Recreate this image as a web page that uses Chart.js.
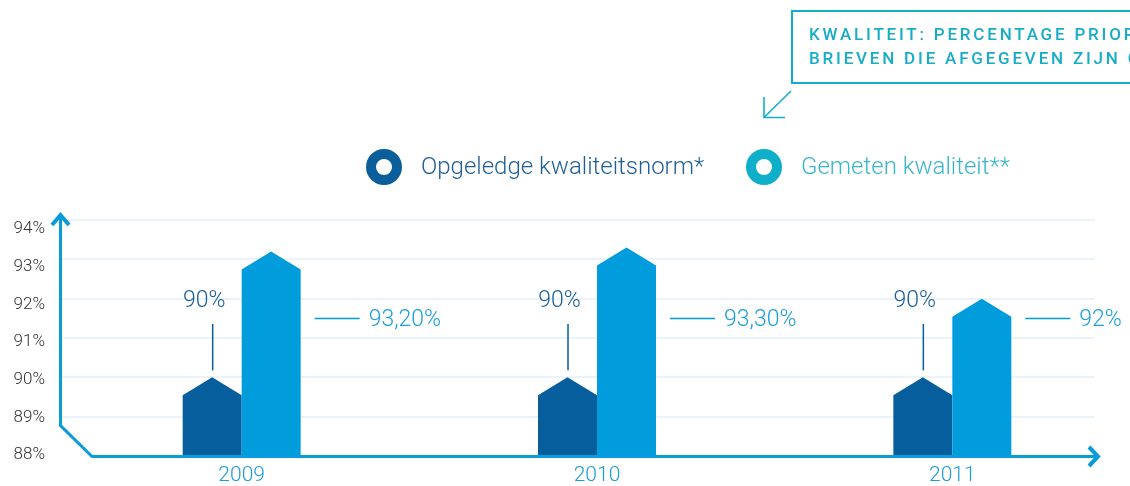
<!DOCTYPE html>
<html><head><meta charset="utf-8">
<script src="https://cdn.jsdelivr.net/npm/chart.js@4/dist/chart.umd.min.js"></script>
<style>html,body{margin:0;padding:0;background:#fff;overflow:hidden}#wrap{width:1130px;height:486px;position:relative}</style>
</head><body><div id="wrap"><canvas id="c" width="1130" height="486"></canvas></div>
<script>
// ---- data ----
const categories = ['2009', '2010', '2011'];
const normValues = [90, 90, 90];
const measuredValues = [93.2, 93.3, 92];
const seriesNames = ['Opgeledge kwaliteitsnorm*', 'Gemeten kwaliteit**'];
const yTickValues = [88, 89, 90, 91, 92, 93, 94];
const yMin = 88, yMax = 94;
const titleLines = ['KWALITEIT: PERCENTAGE PRIORITAIRE', 'BRIEVEN DIE AFGEGEVEN ZIJN OP D+1'];

// ---- styles ----
const FONT = 'Roboto, "Open Sans", sans-serif';
const C_DARK = '#075e9c';
const C_LIGHT = '#009cdc';
const C_AXIS = '#0a9bdb';
const C_GRID = '#e8f3fb';
const C_TEAL = '#12afc9';
const legendColors = [{ring: '#0b5e9c', text: '#1f5f98'}, {ring: '#10afc9', text: '#3ab6cb'}];

function fmtPct(v) {
  return Number.isInteger(v) ? v + '%' : v.toFixed(2).replace('.', ',') + '%';
}

const decor = {
  id: 'decor',
  beforeDatasetsDraw(chart) {
    const {ctx} = chart;
    const y = chart.scales.y;
    const yBase = y.getPixelForValue(yMin);
    ctx.save();
    ctx.strokeStyle = C_GRID;
    ctx.lineWidth = 2;
    yTickValues.slice(1).forEach((v) => {
      const py = Math.round(y.getPixelForValue(v));
      ctx.beginPath(); ctx.moveTo(62, py); ctx.lineTo(1095, py); ctx.stroke();
    });
    ctx.restore();
    // custom bar shapes (house shaped)
    chart.data.datasets.forEach((ds, di) => {
      const meta = chart.getDatasetMeta(di);
      meta.data.forEach((bar) => {
        const x0 = bar.x - bar.width / 2, x1 = bar.x + bar.width / 2;
        const base = Math.min(bar.base, yBase);
        const roof = 18;
        ctx.save();
        ctx.fillStyle = ds.backgroundColor;
        ctx.beginPath();
        ctx.moveTo(x0, base);
        ctx.lineTo(x0, bar.y + roof);
        ctx.lineTo(bar.x, bar.y);
        ctx.lineTo(x1, bar.y + roof);
        ctx.lineTo(x1, base);
        ctx.closePath();
        ctx.fill();
        ctx.restore();
      });
    });
    return false;
  },
  afterDraw(chart) {
    const {ctx} = chart;
    const y = chart.scales.y;
    const yb = y.getPixelForValue(yMin) + 0.5;
    const yt = y.getPixelForValue(yMax);
    ctx.save();
    // axes
    ctx.strokeStyle = C_AXIS;
    ctx.lineWidth = 3;
    ctx.lineJoin = 'miter';
    ctx.beginPath();
    ctx.moveTo(60.5, yt - 4);
    ctx.lineTo(60.5, yb - 31);
    ctx.lineTo(92, yb);
    ctx.lineTo(1097, yb);
    ctx.stroke();
    ctx.lineWidth = 4;
    ctx.beginPath();
    ctx.moveTo(52, yt + 5); ctx.lineTo(60.5, yt - 5); ctx.lineTo(69, yt + 5);
    ctx.stroke();
    ctx.beginPath();
    ctx.moveTo(1089, yb - 9.5); ctx.lineTo(1098, yb); ctx.lineTo(1089, yb + 9.5);
    ctx.stroke();

    // annotations
    const m0 = chart.getDatasetMeta(0), m1 = chart.getDatasetMeta(1);
    ctx.font = '300 23px ' + FONT;
    ctx.textBaseline = 'middle';
    m0.data.forEach((bar, i) => {
      ctx.strokeStyle = C_DARK; ctx.lineWidth = 1.5;
      ctx.beginPath(); ctx.moveTo(bar.x + 0.5, 324); ctx.lineTo(bar.x + 0.5, bar.y - 7); ctx.stroke();
      ctx.fillStyle = '#1a5f9a';
      ctx.textAlign = 'center';
      ctx.fillText(fmtPct(normValues[i]), bar.x - 8, 301);
    });
    m1.data.forEach((bar, i) => {
      const xs = bar.x + bar.width / 2 + 14;
      ctx.strokeStyle = C_LIGHT; ctx.lineWidth = 1.5;
      ctx.beginPath(); ctx.moveTo(xs, 318.5); ctx.lineTo(xs + 45, 318.5); ctx.stroke();
      ctx.fillStyle = '#1aa0dc';
      ctx.textAlign = 'left';
      ctx.fillText(fmtPct(measuredValues[i]), xs + 54, 320);
    });

    // legend
    const lx = [384, 764];
    chart.data.datasets.forEach((ds, di) => {
      ctx.strokeStyle = legendColors[di].ring;
      ctx.lineWidth = 10;
      ctx.beginPath(); ctx.arc(lx[di], 167, 13, 0, Math.PI * 2); ctx.stroke();
      ctx.fillStyle = legendColors[di].text;
      ctx.textAlign = 'left';
      ctx.font = '300 24px ' + FONT;
      ctx.fillText(ds.label, lx[di] + 37, 168);
    });

    // title box
    ctx.strokeStyle = C_TEAL;
    ctx.lineWidth = 2;
    ctx.strokeRect(792, 11, 400, 72);
    ctx.fillStyle = '#17acc8';
    ctx.font = '500 17px ' + FONT;
    ctx.textAlign = 'left';
    ctx.letterSpacing = '2.8px';
    ctx.fillText(titleLines[0], 809, 36);
    ctx.fillText(titleLines[1], 809, 60);
    ctx.letterSpacing = '0px';
    // arrow
    ctx.lineWidth = 1.6;
    ctx.beginPath();
    ctx.moveTo(791, 91); ctx.lineTo(764, 117.5);
    ctx.moveTo(764, 97); ctx.lineTo(764, 117.5); ctx.lineTo(785, 117.5);
    ctx.stroke();
    ctx.restore();
  }
};

new Chart(document.getElementById('c'), {
  type: 'bar',
  data: {
    labels: categories,
    datasets: [
      {label: seriesNames[0], data: normValues, backgroundColor: C_DARK},
      {label: seriesNames[1], data: measuredValues, backgroundColor: C_LIGHT}
    ]
  },
  options: {
    responsive: false,
    animation: false,
    devicePixelRatio: 1,
    layout: {padding: {top: 220, right: 0, left: 0, bottom: 0}},
    plugins: {legend: {display: false}, tooltip: {enabled: false}},
    datasets: {bar: {barPercentage: 1, categoryPercentage: 0.332}},
    scales: {
      x: {
        grid: {display: false, drawTicks: false},
        border: {display: false},
        ticks: {color: '#1a9cd8', font: {family: FONT, size: 21, weight: '300'}, padding: 7},
        afterFit(s) { s.height = 30; }
      },
      y: {
        display: false,
        min: yMin, max: yMax
      },
      yl: {
        position: 'left',
        min: 87.973, max: 94.239,
        grid: {display: false, drawTicks: false},
        border: {display: false},
        afterBuildTicks(s) { s.ticks = yTickValues.map((v) => ({value: v})); },
        ticks: {color: '#333', font: {family: FONT, size: 17, weight: '300'}, padding: 19,
          callback: (v) => v + '%'},
        afterFit(s) { s.width = 64; }
      }
    }
  },
  plugins: [decor]
});
</script></body></html>
